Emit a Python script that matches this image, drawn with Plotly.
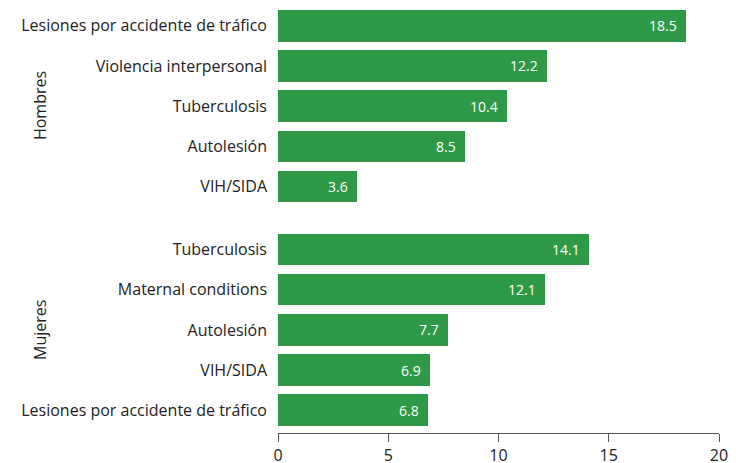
import plotly.graph_objects as go

# Leading causes by sex (values shown on bars)
hombres_causas = ["Lesiones por accidente de tráfico", "Violencia interpersonal",
                  "Tuberculosis", "Autolesión", "VIH/SIDA"]
hombres_valores = [18.5, 12.2, 10.4, 8.5, 3.6]

mujeres_causas = ["Tuberculosis", "Maternal conditions", "Autolesión",
                  "VIH/SIDA", "Lesiones por accidente de tráfico"]
mujeres_valores = [14.1, 12.1, 7.7, 6.9, 6.8]

grupos = ["Hombres", "Mujeres"]
x_ticks = [0, 5, 10, 15, 20]

GREEN = "#2e9a48"
FONT = "Open Sans"
GAP = 0.58  # extra space between the two groups

pos_h = [float(i) for i in range(len(hombres_causas))]
pos_m = [len(hombres_causas) + GAP + i for i in range(len(mujeres_causas))]

positions = pos_h + pos_m
values = hombres_valores + mujeres_valores
labels = hombres_causas + mujeres_causas

fig = go.Figure()
fig.add_trace(go.Bar(
    x=values,
    y=positions,
    orientation="h",
    width=0.78,
    marker=dict(color=GREEN, line=dict(width=0)),
    hoverinfo="skip",
))

# Value labels inside the bar ends
for v, p in zip(values, positions):
    fig.add_annotation(
        x=v, y=p, xref="x", yref="y",
        xanchor="right", yanchor="middle", xshift=-7,
        text=f"{v:.1f}", showarrow=False,
        font=dict(size=14, color="white", family=FONT),
    )

# Group labels on the left
centers = [sum(pos_h) / len(pos_h), sum(pos_m) / len(pos_m)]
for g, c in zip(grupos, centers):
    fig.add_annotation(
        x=0, xref="paper", xanchor="center", xshift=40 - 278,
        y=c, yref="y", yanchor="middle",
        text=g, textangle=-90, showarrow=False,
        font=dict(size=16, color="#222", family=FONT),
    )

fig.update_layout(
    width=736, height=463,
    margin=dict(l=278, r=17, t=5, b=30, autoexpand=False),
    plot_bgcolor="white", paper_bgcolor="white",
    showlegend=False,
    bargap=0,
    font=dict(family=FONT, size=16, color="#222"),
    xaxis=dict(
        range=[0, 20], tickvals=x_ticks, ticktext=[str(t) for t in x_ticks],
        showgrid=False, zeroline=False,
        showline=True, linecolor="#555", linewidth=1,
        ticks="outside", ticklen=8, tickcolor="#555", tickwidth=1,
        tickfont=dict(size=16, color="#222"),
        automargin=False, fixedrange=True,
    ),
    yaxis=dict(
        range=[10.15, -0.52],
        tickvals=positions, ticktext=labels,
        showgrid=False, zeroline=False, showline=False,
        ticks="", ticklabelstandoff=10,
        tickfont=dict(size=16, color="#222"),
        automargin=False, fixedrange=True,
    ),
)

fig.write_html("out.html")
